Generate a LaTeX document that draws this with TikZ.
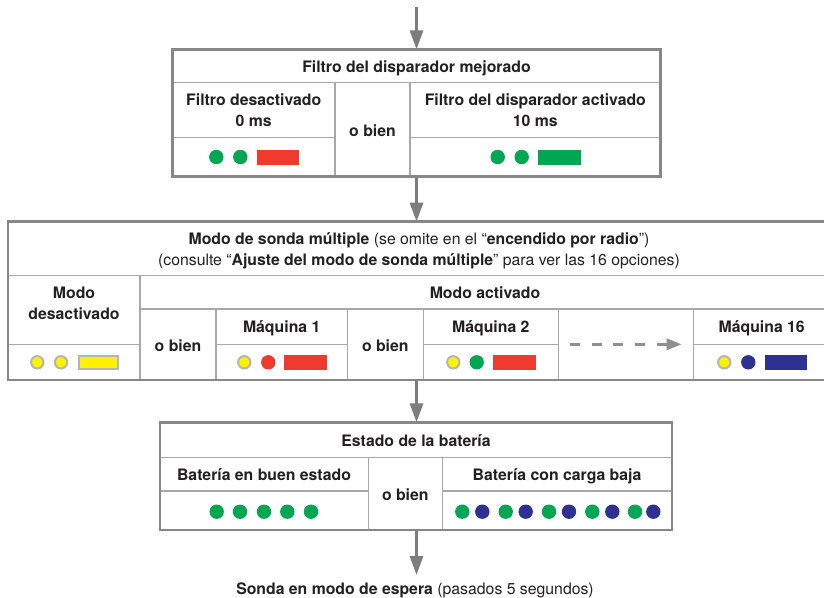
\documentclass[tikz,border=0pt]{standalone}
\usepackage{fontspec}
\setmainfont{TeX Gyre Heros}
\usetikzlibrary{arrows.meta,calc}
\definecolor{framegray}{HTML}{878787}
\definecolor{linegray}{HTML}{A8A8A8}
\definecolor{arrowgray}{HTML}{7D7D7D}
\definecolor{dashgray}{HTML}{8F8F8F}
\definecolor{ledgreen}{HTML}{00A651}
\definecolor{ledred}{HTML}{EE3A2F}
\definecolor{ledblue}{HTML}{2E3192}
\definecolor{ledyellow}{HTML}{FFF200}
\definecolor{ringgray}{HTML}{B5B5B5}
\definecolor{textdark}{HTML}{231F20}
\begin{document}
\begin{tikzpicture}[x=1pt,y=-1pt,
  frame/.style={draw=framegray, line width=2.8pt, rectangle, inner sep=0pt, outer sep=0pt},
  grid/.style={draw=linegray, line width=1.4pt},
  flow/.style={draw=arrowgray, line width=3pt, -{Triangle[width=13pt,length=19pt]}},
  dashflow/.style={draw=dashgray, line width=3pt, dash pattern=on 10pt off 11.7pt, -{Triangle[width=11pt,length=15pt]}},
  txt/.style={inner sep=0pt, anchor=base, font=\fontsize{15.8}{18}\selectfont\bfseries, text=textdark},
  ledg/.style={fill=ledgreen},
  ledb/.style={fill=ledblue},
  ledr/.style={fill=ledred},
  ledy/.style={fill=ledyellow, draw=ringgray, line width=2pt},
]
\useasboundingbox (0,0) rectangle (824,597);

% ---------- frames ----------
\node[frame, minimum width=488.4pt, minimum height=127.4pt] (filt) at (416.5,113) {};
\node[frame, minimum width=822pt, minimum height=158.3pt] (multi) at (419,300.85) {};
\node[frame, minimum width=512pt, minimum height=107.7pt] (batt) at (416,476.15) {};

% ---------- top box grid ----------
\draw[grid] (173.6,82.7) -- (659.4,82.7);
\draw[grid] (335,82.7) -- (335,175.4);
\draw[grid] (410,82.7) -- (410,175.4);
\draw[grid] (173.6,137.3) -- (335,137.3);
\draw[grid] (410,137.3) -- (659.4,137.3);

% ---------- middle box grid ----------
\draw[grid] (9.3,275.7) -- (830,275.7);
\draw[grid] (140,275.7) -- (140,378.7);
\draw[grid] (140,309) -- (830,309);
\draw[grid] (216,309) -- (216,378.7);
\draw[grid] (347.3,309) -- (347.3,378.7);
\draw[grid] (423.3,309) -- (423.3,378.7);
\draw[grid] (558.3,309) -- (558.3,378.7);
\draw[grid] (693.3,309) -- (693.3,378.7);
\draw[grid] (9.3,344.3) -- (140,344.3);
\draw[grid] (216,344.3) -- (347.3,344.3);
\draw[grid] (423.3,344.3) -- (558.3,344.3);
\draw[grid] (693.3,344.3) -- (830,344.3);

% ---------- bottom box grid ----------
\draw[grid] (161.3,457.7) -- (670.7,457.7);
\draw[grid] (368.3,457.7) -- (368.3,528.7);
\draw[grid] (442.3,457.7) -- (442.3,528.7);
\draw[grid] (161.3,491) -- (368.3,491);
\draw[grid] (442.3,491) -- (670.7,491);

% ---------- texts: top ----------
\node[txt] (t1) at (416.5,72) {Filtro del disparador mejorado};
\node[txt] (t2) at (253.7,105.7) {Filtro desactivado};
\node[txt] (t3) at (253.7,126.7) {0 ms};
\node[txt] (t4) at (372.5,136) {o bien};
\node[txt] (t5) at (535.3,105.7) {Filtro del disparador activado};
\node[txt] (t6) at (535.3,126.7) {10 ms};

% ---------- texts: middle ----------
\node[txt] (m1) at (419,244.3) {Modo de sonda múltiple {\mdseries (se omite en el “}encendido por radio{\mdseries ”)}};
\node[txt] (m2) at (419,265.7) {{\mdseries (consulte “}Ajuste del modo de sonda múltiple{\mdseries ” para ver las 16 opciones)}};
\node[txt] (m3) at (74,298.3) {Modo};
\node[txt] (m4) at (74,319.3) {desactivado};
\node[txt] (m5) at (485,298.3) {Modo activado};
\node[txt] (m6) at (281.7,332.3) {Máquina 1};
\node[txt] (m7) at (490.8,332.3) {Máquina 2};
\node[txt] (m8) at (761.7,332.3) {Máquina 16};
\node[txt] (m9) at (178,351.7) {o bien};
\node[txt] (m10) at (385.3,351.7) {o bien};

% ---------- texts: bottom ----------
\node[txt] (b1) at (416,446.7) {Estado de la batería};
\node[txt] (b2) at (264,480) {Batería en buen estado};
\node[txt] (b3) at (405.3,500) {o bien};
\node[txt] (b4) at (557,480) {Batería con carga baja};
\node[txt] (standby) at (415,594) {Sonda en modo de espera {\mdseries (pasados 5 segundos)}};

% ---------- connectors ----------
\coordinate (start) at (416.5,7);
\coordinate (endtip) at (416.5,575);
\draw[flow] (start) -- (filt.north);
\draw[flow] (filt.south) -- (filt.south |- multi.north);
\draw[flow] (filt.south |- multi.south) -- (filt.south |- batt.north);
\draw[flow] (filt.south |- batt.south) -- (endtip);
\coordinate (dashA) at (570,344.3);
\coordinate (dashB) at (681.7,344.3);
\draw[dashflow] (dashA) -- (dashB);

% ---------- LEDs: top ----------
\fill[ledg] (216.3,157) circle (7.2);
\fill[ledg] (240.3,157) circle (7.2);
\fill[ledr] (256.7,150) rectangle (299,165);
\fill[ledg] (497.7,157) circle (7.2);
\fill[ledg] (521.7,157) circle (7.2);
\fill[ledgreen] (538,150) rectangle (580.7,165);

% ---------- LEDs: middle ----------
\filldraw[ledy] (37.3,362.3) circle (6.2);
\filldraw[ledy] (61,362.3) circle (6.2);
\filldraw[ledy] (79.3,356.3) rectangle (118,368.8);
\filldraw[ledy] (244.3,362.3) circle (6.2);
\fill[ledr] (268.3,362.3) circle (7.2);
\fill[ledr] (284.3,355.3) rectangle (326.7,369.8);
\filldraw[ledy] (453.3,362.3) circle (6.2);
\fill[ledg] (476.7,362.3) circle (7.2);
\fill[ledr] (493.3,355.3) rectangle (535.7,369.8);
\filldraw[ledy] (724.3,362.3) circle (6.2);
\fill[ledb] (748.3,362.3) circle (7.2);
\fill[ledb] (765,355.3) rectangle (806.7,369.8);

% ---------- LEDs: bottom ----------
\foreach \x in {216.7,240,264,287.3,311} \fill[ledg] (\x,511.7) circle (7.2);
\foreach \x in {462.3,505.7,549,592.3,635} \fill[ledg] (\x,511.7) circle (7.2);
\foreach \x in {482.3,525.7,569,612.3,653.3} \fill[ledb] (\x,511.7) circle (7.2);
\end{tikzpicture}
\end{document}
